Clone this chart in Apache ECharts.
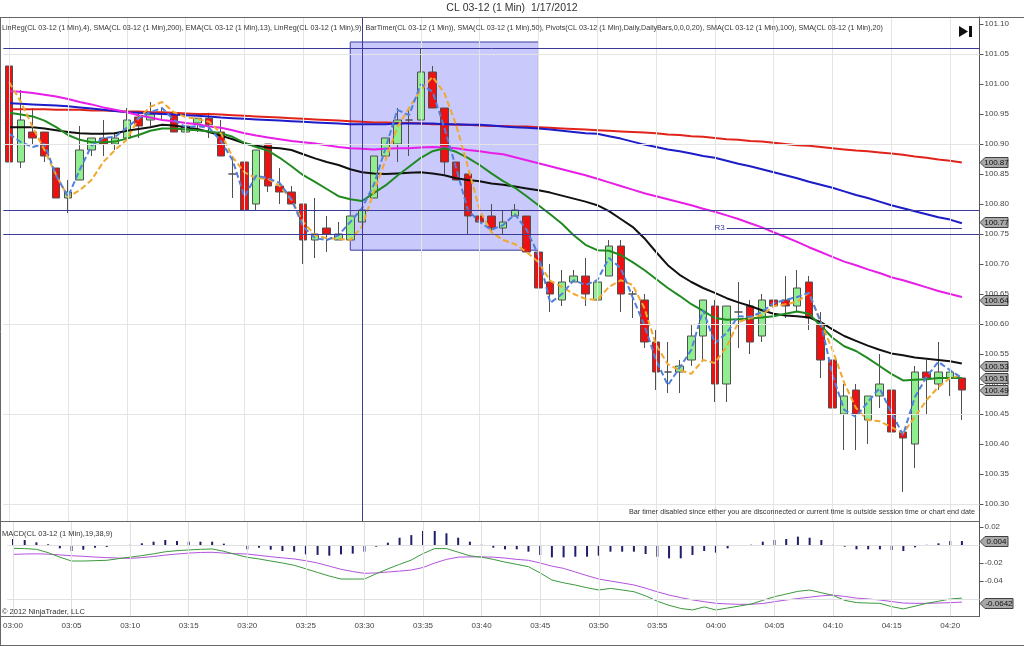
<!DOCTYPE html>
<html><head><meta charset="utf-8">
<script src="https://cdn.jsdelivr.net/npm/echarts@6/dist/echarts.min.js"></script>
<style>html,body{margin:0;padding:0;background:#fff}#c{width:1024px;height:646px}</style>
</head><body><div id="c"></div>
<script>
const times=['03:00','03:01','03:02','03:03','03:04','03:05','03:06','03:07','03:08','03:09','03:10','03:11','03:12','03:13','03:14','03:15','03:16','03:17','03:18','03:19','03:20','03:21','03:22','03:23','03:24','03:25','03:26','03:27','03:28','03:29','03:30','03:31','03:32','03:33','03:34','03:35','03:36','03:37','03:38','03:39','03:40','03:41','03:42','03:43','03:44','03:45','03:46','03:47','03:48','03:49','03:50','03:51','03:52','03:53','03:54','03:55','03:56','03:57','03:58','03:59','04:00','04:01','04:02','04:03','04:04','04:05','04:06','04:07','04:08','04:09','04:10','04:11','04:12','04:13','04:14','04:15','04:16','04:17','04:18','04:19','04:20','04:21','04:22'];
const gridTimes=['03:00','03:05','03:10','03:15','03:20','03:25','03:30','03:35','03:40','03:45','03:50','03:55','04:00','04:05','04:10','04:15','04:20'];
const priceTicks=[101.10,101.05,101.00,100.95,100.90,100.85,100.80,100.75,100.70,100.65,100.60,100.55,100.50,100.45,100.40,100.35,100.30];
const priceGridLevels=[101.05,100.90,100.75,100.60,100.45,100.30];
const macdTicks=[0.02,-0.02,-0.04];
const macdGridLevels=[0,-0.06];

const open=[101.03,100.87,100.92,100.92,100.86,100.81,100.84,100.89,100.91,100.90,
100.91,100.945,100.94,100.95,100.95,100.92,100.935,100.943,100.92,100.85,
100.87,100.80,100.90,100.83,100.82,100.80,100.74,100.76,100.74,100.74,
100.77,100.81,100.88,100.90,100.94,100.94,101.02,100.96,100.87,100.85,
100.78,100.78,100.76,100.78,100.78,100.72,100.67,100.64,100.67,100.68,
100.64,100.68,100.73,100.65,100.64,100.57,100.52,100.52,100.54,100.58,
100.63,100.50,100.62,100.63,100.58,100.64,100.64,100.63,100.67,100.60,
100.54,100.45,100.49,100.44,100.48,100.49,100.42,100.40,100.52,100.50,
100.51,100.51];
const close=[100.87,100.94,100.91,100.88,100.81,100.82,100.89,100.91,100.90,100.91,
100.94,100.93,100.95,100.95,100.92,100.93,100.943,100.932,100.88,100.85,
100.79,100.89,100.83,100.82,100.80,100.74,100.75,100.75,100.75,100.78,
100.79,100.88,100.91,100.94,100.94,101.02,100.96,100.87,100.84,100.78,
100.77,100.76,100.77,100.79,100.72,100.66,100.65,100.67,100.68,100.65,
100.67,100.73,100.65,100.65,100.57,100.52,100.52,100.53,100.58,100.64,
100.50,100.63,100.62,100.57,100.64,100.63,100.63,100.66,100.61,100.54,
100.46,100.48,100.45,100.48,100.50,100.42,100.41,100.52,100.51,100.52,
100.52,100.49];
const low=[100.87,100.86,100.90,100.87,100.81,100.785,100.84,100.88,100.88,100.89,
100.91,100.91,100.93,100.94,100.92,100.91,100.92,100.91,100.88,100.81,
100.78,100.79,100.82,100.80,100.80,100.70,100.71,100.72,100.74,100.74,
100.77,100.81,100.88,100.87,100.88,100.94,100.96,100.85,100.84,100.75,
100.77,100.755,100.75,100.78,100.72,100.66,100.62,100.63,100.67,100.63,
100.60,100.68,100.62,100.61,100.56,100.49,100.485,100.485,100.53,100.54,
100.47,100.47,100.56,100.55,100.57,100.59,100.61,100.62,100.59,100.51,
100.44,100.39,100.39,100.40,100.46,100.39,100.32,100.36,100.45,100.49,
100.48,100.44];
const high=[101.03,100.99,100.96,100.92,100.86,100.84,100.93,100.91,100.94,100.92,
100.96,100.955,100.97,100.96,100.95,100.93,100.943,100.952,100.94,100.88,
100.87,100.89,100.90,100.86,100.83,100.80,100.81,100.78,100.77,100.78,
100.79,100.88,100.91,100.96,100.96,101.06,101.03,100.96,100.87,100.85,
100.82,100.80,100.79,100.80,100.78,100.72,100.70,100.69,100.69,100.71,
100.69,100.74,100.74,100.655,100.65,100.59,100.57,100.54,100.60,100.64,
100.64,100.63,100.67,100.64,100.65,100.68,100.68,100.69,100.68,100.62,
100.54,100.50,100.50,100.48,100.55,100.49,100.42,100.53,100.54,100.57,
100.52,100.51];

const sma200=[100.958,100.958,100.958,100.958,100.957,100.957,100.957,100.956,100.956,100.955,
100.954,100.954,100.953,100.953,100.952,100.951,100.950,100.950,100.949,100.948,
100.947,100.946,100.945,100.944,100.943,100.942,100.941,100.940,100.939,100.938,
100.937,100.936,100.936,100.935,100.935,100.934,100.933,100.933,100.932,100.932,
100.931,100.930,100.930,100.929,100.929,100.928,100.927,100.926,100.925,100.924,
100.923,100.922,100.921,100.920,100.919,100.918,100.916,100.915,100.913,100.912,
100.910,100.908,100.907,100.905,100.904,100.902,100.900,100.898,100.897,100.895,
100.893,100.891,100.889,100.888,100.886,100.884,100.882,100.879,100.877,100.874,
100.872,100.869];
const sma100=[100.968,100.967,100.966,100.965,100.964,100.963,100.961,100.959,100.957,100.955,
100.953,100.952,100.951,100.950,100.949,100.948,100.947,100.946,100.944,100.943,
100.942,100.941,100.940,100.939,100.938,100.937,100.936,100.935,100.934,100.933,
100.933,100.933,100.933,100.934,100.934,100.934,100.934,100.933,100.933,100.932,
100.932,100.931,100.929,100.928,100.927,100.926,100.924,100.922,100.920,100.918,
100.917,100.913,100.909,100.904,100.899,100.895,100.891,100.888,100.884,100.880,
100.877,100.872,100.867,100.863,100.858,100.853,100.848,100.843,100.837,100.832,
100.827,100.821,100.815,100.810,100.804,100.798,100.793,100.788,100.783,100.778,
100.774,100.768];
const sma50=[100.988,100.987,100.985,100.982,100.979,100.975,100.970,100.966,100.961,100.957,
100.953,100.948,100.944,100.940,100.938,100.935,100.933,100.929,100.927,100.923,
100.918,100.914,100.911,100.908,100.905,100.903,100.901,100.898,100.895,100.893,
100.892,100.891,100.892,100.893,100.893,100.894,100.895,100.894,100.893,100.890,
100.888,100.885,100.883,100.878,100.873,100.868,100.863,100.858,100.853,100.848,
100.842,100.836,100.830,100.824,100.818,100.813,100.808,100.803,100.798,100.792,
100.787,100.781,100.775,100.768,100.761,100.753,100.745,100.737,100.728,100.720,
100.712,100.704,100.698,100.691,100.685,100.678,100.673,100.667,100.661,100.655,
100.650,100.645];
const sma20=[100.928,100.928,100.928,100.926,100.923,100.920,100.918,100.917,100.917,100.918,
100.922,100.925,100.928,100.932,100.931,100.928,100.925,100.920,100.914,100.908,
100.901,100.897,100.894,100.893,100.890,100.883,100.876,100.870,100.865,100.858,
100.853,100.851,100.850,100.851,100.852,100.853,100.851,100.848,100.843,100.840,
100.838,100.834,100.832,100.829,100.826,100.823,100.819,100.814,100.809,100.804,
100.798,100.788,100.775,100.762,100.743,100.720,100.698,100.682,100.670,100.660,
100.652,100.643,100.636,100.630,100.623,100.617,100.614,100.613,100.611,100.603,
100.591,100.580,100.572,100.564,100.557,100.551,100.548,100.544,100.542,100.540,
100.538,100.534];
const ema13=[100.952,100.949,100.946,100.939,100.928,100.915,100.907,100.903,100.903,100.904,
100.909,100.915,100.922,100.926,100.926,100.924,100.923,100.921,100.918,100.912,
100.902,100.895,100.889,100.877,100.863,100.848,100.837,100.825,100.813,100.808,
100.805,100.818,100.831,100.847,100.862,100.877,100.888,100.893,100.887,100.877,
100.865,100.851,100.838,100.827,100.813,100.798,100.783,100.767,100.748,100.732,
100.723,100.722,100.715,100.703,100.690,100.675,100.660,100.647,100.633,100.622,
100.610,100.607,100.608,100.609,100.611,100.613,100.617,100.621,100.617,100.597,
100.577,100.563,100.555,100.543,100.530,100.517,100.506,100.507,100.508,100.510,
100.510,100.510];
const linReg4=[100.917,100.903,100.895,100.900,100.847,100.812,100.857,100.897,100.910,100.912,
100.927,100.943,100.953,100.960,100.940,100.928,100.930,100.927,100.905,100.873,
100.812,100.847,100.843,100.835,100.808,100.762,100.743,100.740,100.748,100.770,
100.793,100.832,100.893,100.957,100.948,101.000,100.987,100.927,100.860,100.790,
100.770,100.757,100.765,100.783,100.757,100.715,100.635,100.650,100.673,100.665,
100.673,100.710,100.693,100.645,100.598,100.540,100.498,100.527,100.557,100.623,
100.568,100.585,100.613,100.612,100.620,100.635,100.640,100.645,100.652,100.603,
100.515,100.457,100.445,100.470,100.493,100.453,100.415,100.478,100.512,100.537,
100.523,100.510];
const linReg9=[101.003,100.970,100.928,100.890,100.848,100.812,100.823,100.840,100.870,100.890,
100.907,100.943,100.962,100.970,100.953,100.945,100.942,100.937,100.918,100.878,
100.853,100.843,100.842,100.830,100.807,100.770,100.748,100.743,100.742,100.740,
100.762,100.820,100.873,100.928,100.960,100.990,101.012,100.985,100.932,100.862,
100.790,100.753,100.740,100.733,100.720,100.703,100.672,100.662,100.650,100.642,
100.640,100.662,100.673,100.665,100.627,100.565,100.533,100.523,100.517,100.540,
100.535,100.562,100.603,100.610,100.615,100.630,100.633,100.637,100.652,100.603,
100.557,100.502,100.460,100.440,100.438,100.428,100.418,100.445,100.473,100.495,
100.510,100.515];

const macd=[-0.0037,-0.0040,-0.0048,-0.0085,-0.0135,-0.0178,-0.0178,-0.0174,-0.0170,-0.0152,
-0.0135,-0.0118,-0.0098,-0.0075,-0.0063,-0.0055,-0.0048,-0.0044,-0.0070,-0.0105,
-0.0137,-0.0155,-0.0178,-0.0200,-0.0225,-0.0265,-0.0305,-0.0345,-0.0378,-0.0378,
-0.0378,-0.0320,-0.0265,-0.0215,-0.0167,-0.0095,-0.0040,-0.0040,-0.0080,-0.0120,
-0.0135,-0.0160,-0.0190,-0.0215,-0.0241,-0.0310,-0.0389,-0.0420,-0.0445,-0.0475,
-0.0500,-0.0482,-0.0500,-0.0519,-0.0565,-0.0625,-0.0670,-0.0705,-0.0722,-0.0688,
-0.0722,-0.0700,-0.0678,-0.0656,-0.0615,-0.0574,-0.0545,-0.0515,-0.0500,-0.0530,
-0.0560,-0.0615,-0.0640,-0.0645,-0.0648,-0.0685,-0.0710,-0.0680,-0.0648,-0.0625,
-0.0600,-0.0590];
const signal=[-0.0104,-0.0100,-0.0098,-0.0102,-0.0110,-0.0119,-0.0126,-0.0134,-0.0140,-0.0145,
-0.0148,-0.0140,-0.0128,-0.0112,-0.0100,-0.0090,-0.0083,-0.0081,-0.0090,-0.0096,
-0.0100,-0.0115,-0.0130,-0.0143,-0.0155,-0.0175,-0.0200,-0.0235,-0.0270,-0.0295,
-0.0315,-0.0310,-0.0300,-0.0290,-0.0278,-0.0250,-0.0200,-0.0160,-0.0135,-0.0132,
-0.0132,-0.0135,-0.0145,-0.0160,-0.0170,-0.0200,-0.0235,-0.0260,-0.0300,-0.0340,
-0.0378,-0.0400,-0.0422,-0.0444,-0.0480,-0.0520,-0.0556,-0.0585,-0.0610,-0.0630,
-0.0648,-0.0655,-0.0659,-0.0659,-0.0650,-0.0630,-0.0611,-0.0595,-0.0580,-0.0565,
-0.0556,-0.0572,-0.0590,-0.0600,-0.0611,-0.0628,-0.0645,-0.0648,-0.0648,-0.0645,
-0.0640,-0.0635];
const hist=[0.0067,0.0056,0.0030,0.0008,-0.0037,-0.0067,-0.0052,-0.0030,-0.0022,-0.0010,
0.0003,0.0019,0.0037,0.0056,0.0044,0.0037,0.0037,0.0037,0.0015,-0.0003,
-0.0048,-0.0030,-0.0052,-0.0067,-0.0074,-0.0104,-0.0110,-0.0119,-0.0104,-0.0096,
-0.0074,-0.0019,0.0026,0.0081,0.0110,0.0156,0.0156,0.0130,0.0081,0.0037,
0.0004,-0.0030,-0.0048,-0.0048,-0.0074,-0.0111,-0.0137,-0.0137,-0.0130,-0.0130,
-0.0119,-0.0074,-0.0074,-0.0074,-0.0100,-0.0130,-0.0148,-0.0148,-0.0111,-0.0067,
-0.0085,-0.0037,-0.0003,0.0003,0.0037,0.0056,0.0067,0.0093,0.0081,0.0056,
0.0002,-0.0019,-0.0048,-0.0048,-0.0048,-0.0056,-0.0067,-0.0026,0.0002,0.0019,
0.0044,0.0044];

const pivotLevels=[101.062,100.791,100.751];
const r3Level=100.76, r3From='04:01', r3To='04:21';
const boxFrom='03:29', boxTo='03:45', boxTop=101.07, boxBottom=100.723;
const markerTime='03:30';
const priceTags=[100.87,100.77,100.64,100.53,100.51,100.49];
const macdTags=[0.004,-0.0642];

const FONT='"Liberation Sans", Arial, sans-serif';
const candleData=open.map((o,i)=>[o,close[i],low[i],high[i]]);
const chart=echarts.init(document.getElementById('c'),null,{renderer:'canvas'});
const L=3.3, R=44.5;

function lineS(data,color,dashed){
  return {type:'line',xAxisIndex:0,yAxisIndex:0,data:data,symbol:'none',showSymbol:false,silent:true,z:4,
    lineStyle:{color:color,width:2,type:dashed?[6,3]:'solid'}};
}
const option={
  animation:false,backgroundColor:'#fff',
  grid:[{left:L,right:R,top:17,height:504,show:false},{left:L,right:R,top:522,height:94,show:false}],
  xAxis:[
    {type:'category',gridIndex:0,data:times,boundaryGap:true,axisLine:{show:false},axisTick:{show:false},axisLabel:{show:false},splitLine:{show:false}},
    {type:'category',gridIndex:1,data:times,boundaryGap:true,axisLine:{show:false},axisTick:{show:false},
     axisLabel:{interval:4,color:'#444',fontSize:8,fontFamily:FONT,margin:6},splitLine:{show:false}}
  ],
  yAxis:[
    {type:'value',gridIndex:0,position:'right',min:100.27167,max:101.11167,scale:true,
     axisLine:{show:true,lineStyle:{color:'#555'}},
     axisTick:{show:true,length:4,inside:false,lineStyle:{color:'#555'},customValues:priceTicks},
     axisLabel:{customValues:priceTicks,color:'#444',fontSize:8,fontFamily:FONT,margin:5,formatter:v=>v.toFixed(2)},
     splitLine:{show:false}},
    {type:'value',gridIndex:1,position:'right',min:-0.07889,max:0.02556,scale:true,
     axisLine:{show:true,lineStyle:{color:'#555'}},
     axisTick:{show:true,length:4,lineStyle:{color:'#555'},customValues:macdTicks},
     axisLabel:{customValues:macdTicks,color:'#444',fontSize:8,fontFamily:FONT,margin:5,formatter:v=>v.toFixed(2)},
     splitLine:{show:false}}
  ],
  series:[
    {type:'line',xAxisIndex:0,yAxisIndex:0,data:[],z:1,silent:true,
     markLine:{silent:true,symbol:['none','none'],label:{show:false},lineStyle:{color:'#e4e4e4',width:1,type:'solid'},
       data:[...gridTimes.map(t=>({xAxis:t})),...priceGridLevels.map(v=>({yAxis:v}))]}},
    {type:'line',xAxisIndex:1,yAxisIndex:1,data:[],z:1,silent:true,
     markLine:{silent:true,symbol:['none','none'],label:{show:false},lineStyle:{color:'#e0e0e0',width:1,type:'solid'},
       data:[...gridTimes.map(t=>({xAxis:t})),...macdGridLevels.map(v=>({yAxis:v}))]}},
    {type:'candlestick',xAxisIndex:0,yAxisIndex:0,data:candleData,barWidth:8,z:3,silent:true,
     itemStyle:{color:'#90ee90',color0:'#ee1111',borderColor:'#505050',borderColor0:'#505050',borderWidth:1}},
    lineS(sma200,'#e2231a'),
    lineS(sma100,'#1c1cc8'),
    lineS(sma50,'#e81ee8'),
    lineS(sma20,'#111111'),
    lineS(ema13,'#1f8a1f'),
    lineS(linReg9,'#f0a830',true),
    lineS(linReg4,'#5080dc',true),
    {type:'line',xAxisIndex:0,yAxisIndex:0,data:[],z:10,silent:true,
     markArea:{silent:true,itemStyle:{color:'rgba(100,100,245,0.35)',borderColor:'#3c3ca0',borderWidth:1},
       data:[[{xAxis:boxFrom,yAxis:boxTop},{xAxis:boxTo,yAxis:boxBottom}]]},
     markLine:{silent:true,symbol:['none','none'],lineStyle:{color:'#3a3a9a',width:1,type:'solid'},label:{show:false},
       data:[...pivotLevels.map(v=>({yAxis:v})),{xAxis:markerTime},
         [{xAxis:r3From,yAxis:r3Level,label:{show:true,position:'start',formatter:'R3',color:'#3a3a9a',fontSize:8,fontFamily:FONT,distance:2}},{xAxis:r3To,yAxis:r3Level}]]}},
    {type:'bar',xAxisIndex:1,yAxisIndex:1,data:hist,barWidth:2,z:3,silent:true,itemStyle:{color:'#1e1e6a'}},
    {type:'line',xAxisIndex:1,yAxisIndex:1,data:signal,symbol:'none',silent:true,z:4,lineStyle:{color:'#b452dc',width:1}},
    {type:'line',xAxisIndex:1,yAxisIndex:1,data:macd,symbol:'none',silent:true,z:4,lineStyle:{color:'#3c9a3c',width:1}}
  ]
};
chart.setOption(option);

function tagEls(y,txt,w){
  const x=980;
  return [
    {type:'polygon',z:100,shape:{points:[[x,y],[x+5,y-5],[x+w,y-5],[x+w,y+5],[x+5,y+5]]},style:{fill:'#a8a8a8',stroke:'#404040',lineWidth:1}},
    {type:'text',z:101,style:{text:txt,x:x+5+(w-5)/2,y:y+0.5,textAlign:'center',textVerticalAlign:'middle',font:'8px '+FONT,fill:'#111'}}
  ];
}
const g=[];
g.push({type:'text',left:'center',top:3,style:{text:'CL 03-12 (1 Min)  1/17/2012',font:'10.5px '+FONT,fill:'#333'}});
g.push({type:'text',z:50,style:{text:'LinReg(CL 03-12 (1 Min),4), SMA(CL 03-12 (1 Min),200), EMA(CL 03-12 (1 Min),13), LinReg(CL 03-12 (1 Min),9)  BarTimer(CL 03-12 (1 Min)), SMA(CL 03-12 (1 Min),50), Pivots(CL 03-12 (1 Min),Daily,DailyBars,0,0,0,20), SMA(CL 03-12 (1 Min),100), SMA(CL 03-12 (1 Min),20)',x:2,y:28,textVerticalAlign:'middle',font:'7.2px '+FONT,fill:'#333'}});
g.push({type:'text',z:50,style:{text:'MACD(CL 03-12 (1 Min),19,38,9)',x:2,y:534,textVerticalAlign:'middle',font:'7.5px '+FONT,fill:'#333'}});
g.push({type:'text',z:50,style:{text:'© 2012 NinjaTrader, LLC',x:2,y:612,textVerticalAlign:'middle',font:'7.5px '+FONT,fill:'#333'}});
g.push({type:'text',z:50,style:{text:'Bar timer disabled since either you are disconnected or current time is outside session time or chart end date',x:975,y:512,textAlign:'right',textVerticalAlign:'middle',font:'7.2px '+FONT,fill:'#333'}});
g.push({type:'polygon',z:50,shape:{points:[[959,26],[968,31.5],[959,37]]},style:{fill:'#111'}});
g.push({type:'rect',z:50,shape:{x:969,y:26,width:3,height:11},style:{fill:'#111'}});
const frame=[[0,17.5,1024,17.5],[0.5,17,0.5,646],[0,521.5,980,521.5],[0,616.5,980,616.5],[0,645.5,1024,645.5]];
frame.forEach(f=>g.push({type:'line',z:60,shape:{x1:f[0],y1:f[1],x2:f[2],y2:f[3]},style:{stroke:'#666',lineWidth:1}}));
priceTags.forEach(v=>{const y=chart.convertToPixel({yAxisIndex:0},v);g.push(...tagEls(Math.round(y)+0.5,v.toFixed(2),28));});
macdTags.forEach(v=>{const y=chart.convertToPixel({yAxisIndex:1},v);g.push(...tagEls(Math.round(y)+0.5,String(v),v<0?33:28));});
chart.setOption({graphic:g});
</script></body></html>
